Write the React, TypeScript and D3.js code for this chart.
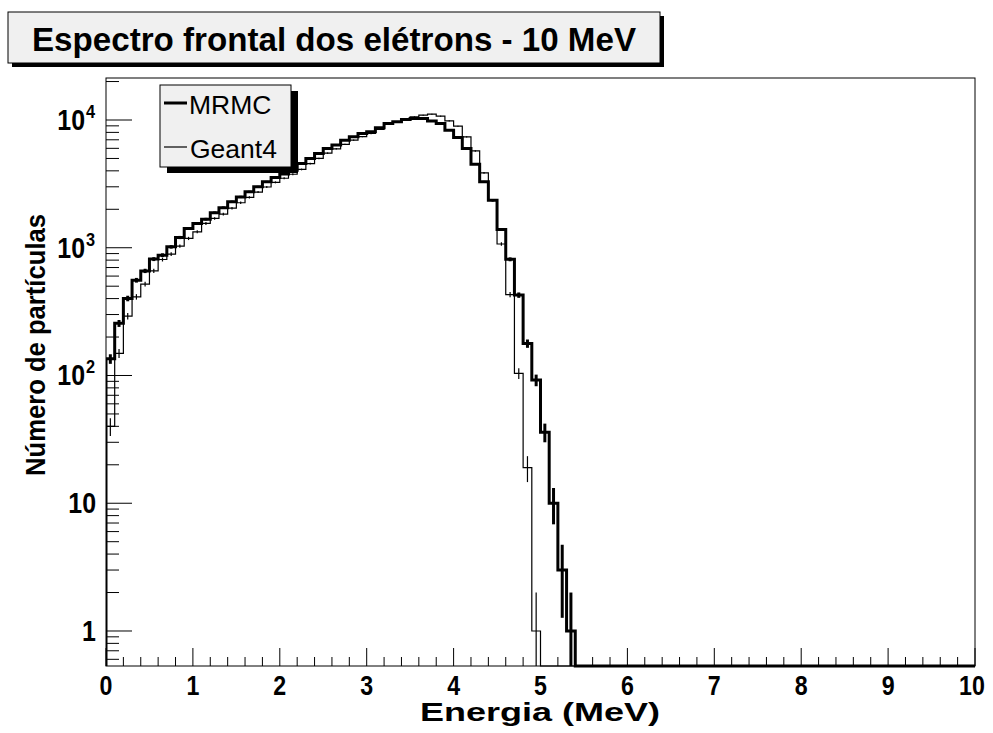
import React from "react";
import * as d3 from "d3";

// ---- data (counts per 0.1 MeV bin, starting at 0 MeV) ----
const mrmc = [
  135, 256, 401, 557, 659, 815, 875, 1016, 1203, 1415,
  1549, 1674, 1880, 2060, 2290, 2500, 2740, 3000, 3280, 3550,
  3770, 4050, 4570, 5000, 5470, 5990, 6360, 6950, 7380, 7840,
  8100, 8700, 9390, 9670, 10090, 10270, 10270, 9840, 9390, 8320,
  7290, 5980, 4510, 3280, 2355, 1390, 812, 426, 178, 92,
  36, 10, 3, 1,
];
const geant4 = [
  40, 149, 292, 413, 519, 659, 809, 891, 1030, 1183,
  1333, 1549, 1695, 1833, 2040, 2250, 2480, 2730, 2990, 3250,
  3500, 3760, 4100, 4550, 5000, 5500, 5950, 6450, 6950, 7400,
  7840, 8430, 9270, 9670, 10270, 10580, 10900, 11100, 10710, 9840,
  8940, 7380, 5730, 3860, 2355, 1070, 430, 104, 19, 1,
];
const xTicks = [0, 1, 2, 3, 4, 5, 6, 7, 8, 9, 10];
const yDecades = [1, 10, 100, 1000, 10000];
const yDecadeLabels = ["1", "10", "10|2", "10|3", "10|4"];
const seriesNames = ["MRMC", "Geant4"];
const titleText = "Espectro frontal dos elétrons - 10 MeV";
const xTitle = "Energia (MeV)";
const yTitle = "Número de partículas";

const W = 993;
const H = 733;
const L = 106, R = 975, T = 78, B = 666;
const nBins = 100;
const binW = 0.1;
const yMin = 0.532;
const yMax = 21320;
const FONT = "'Liberation Sans', Arial, Helvetica, sans-serif";

export default function App() {
  const x = d3.scaleLinear().domain([0, 10]).range([L, R]);
  const y = d3.scaleLog().domain([yMin, yMax]).range([B, T]);

  const yv = (v: number) => (v > 0 ? y(Math.max(v, yMin)) : y(yMin));

  const stepPath = (vals: number[]) => {
    const pts: [number, number][] = [];
    for (let i = 0; i < nBins; i++) {
      const v = vals[i] ?? 0;
      pts.push([i * binW, v]);
    }
    pts.push([10, vals[nBins - 1] ?? 0]);
    const line = d3
      .line<[number, number]>()
      .x((d) => x(d[0]))
      .y((d) => yv(d[1]))
      .curve(d3.curveStepAfter);
    return `M${x(0)},${y(yMin)}` + (line(pts) as string).replace(/^M/, "L");
  };

  const errBars = (vals: number[]) =>
    vals
      .map((v, i) => ({ v, i }))
      .filter((d) => d.v > 0)
      .map((d) => {
        const s = Math.sqrt(d.v);
        const lo = Math.max(d.v - s, yMin);
        const hi = d.v + s;
        const cx = x((d.i + 0.5) * binW);
        return { cx, y1: y(hi), y2: lo <= yMin ? B : y(lo) };
      });

  const yMinor: number[] = [];
  for (let e = -1; e <= 4; e++) {
    for (let m = 2; m <= 9; m++) {
      const v = m * Math.pow(10, e);
      if (v > yMin && v < yMax) yMinor.push(v);
    }
  }
  const xMinor: number[] = [];
  for (let i = 0; i <= 50; i++) {
    if (i % 5 !== 0) xMinor.push(i * 0.2);
  }

  const series = [
    { vals: mrmc, sw: 3 },
    { vals: geant4, sw: 1.2 },
  ];

  const SX = 0.86;

  return (
    <svg
      width={W}
      height={H}
      viewBox={`0 0 ${W} ${H}`}
      style={{ position: "absolute", left: 0, top: 0, background: "#fff" }}
      fontFamily={FONT}
    >
      <rect x={0} y={0} width={W} height={H} fill="#fff" />
      <defs>
        <clipPath id="plotclip">
          <rect x={L} y={T} width={R - L} height={B - T + 2} />
        </clipPath>
      </defs>

      {/* title box */}
      <rect x={12} y={16} width={652} height={51} fill="#000" />
      <rect x={8} y={12} width={652} height={51} fill="#f0f0f0" stroke="#000" strokeWidth={1} />
      <text
        x={334}
        y={51}
        textAnchor="middle"
        fontSize={34}
        fontWeight="bold"
        textLength={604}
        lengthAdjust="spacingAndGlyphs"
      >
        {titleText}
      </text>

      {/* frame */}
      <rect x={L} y={T} width={R - L} height={B - T} fill="none" stroke="#000" strokeWidth={1} />

      {/* histograms */}
      <g clipPath="url(#plotclip)">
        {series.map((s, k) => (
          <g key={k}>
            <path d={stepPath(s.vals)} fill="none" stroke="#000" strokeWidth={s.sw} strokeLinejoin="miter" />
            {errBars(s.vals).map((e, j) => (
              <line key={j} x1={e.cx} x2={e.cx} y1={e.y1} y2={e.y2} stroke="#000" strokeWidth={s.sw} />
            ))}
          </g>
        ))}
      </g>

      {/* y axis ticks */}
      {yDecades.map((v) => (
        <line key={"yM" + v} x1={L} x2={L + 26} y1={y(v)} y2={y(v)} stroke="#000" strokeWidth={1} />
      ))}
      {yMinor.map((v) => (
        <line key={"ym" + v} x1={L} x2={L + 13} y1={y(v)} y2={y(v)} stroke="#000" strokeWidth={1} />
      ))}
      {yDecadeLabels.map((lab, i) => {
        const [base, sup] = lab.split("|");
        const yy = y(yDecades[i]) + 10;
        if (!sup) {
          return (
            <text key={lab} transform={`translate(96,${yy}) scale(${SX},1)`} textAnchor="end" fontSize={29} fontWeight="bold">
              {base}
            </text>
          );
        }
        return (
          <g key={lab}>
            <text transform={`translate(85,${yy}) scale(${SX},1)`} textAnchor="end" fontSize={29} fontWeight="bold">
              {base}
            </text>
            <text transform={`translate(86,${yy - 12}) scale(${SX},1)`} textAnchor="start" fontSize={19} fontWeight="bold">
              {sup}
            </text>
          </g>
        );
      })}

      {/* x axis ticks */}
      {xTicks.map((v) => (
        <line key={"xM" + v} x1={x(v)} x2={x(v)} y1={B} y2={B - 18} stroke="#000" strokeWidth={1} />
      ))}
      {xMinor.map((v) => (
        <line key={"xm" + v} x1={x(v)} x2={x(v)} y1={B} y2={B - 9} stroke="#000" strokeWidth={1} />
      ))}
      {xTicks.map((v) => (
        <text
          key={"xl" + v}
          transform={`translate(${v === 10 ? x(v) - 3 : x(v)},695) scale(${SX},1)`}
          textAnchor="middle"
          fontSize={27}
          fontWeight="bold"
        >
          {v}
        </text>
      ))}

      {/* axis titles */}
      <text x={540} y={721} textAnchor="middle" fontSize={25} fontWeight="bold" textLength={240} lengthAdjust="spacingAndGlyphs">
        {xTitle}
      </text>
      <text
        transform={`translate(45,345) rotate(-90)`}
        textAnchor="middle"
        fontSize={27}
        fontWeight="bold"
        textLength={262}
        lengthAdjust="spacingAndGlyphs"
      >
        {yTitle}
      </text>

      {/* legend */}
      <rect x={167} y={91} width={131} height={82} fill="#000" />
      <rect x={160} y={85} width={131} height={82} fill="#f0f0f0" stroke="#000" strokeWidth={1} />
      <line x1={164} x2={187} y1={103} y2={103} stroke="#000" strokeWidth={3} />
      <line x1={164} x2={187} y1={147} y2={147} stroke="#000" strokeWidth={1.2} />
      <text x={189} y={114} fontSize={26.5}>{seriesNames[0]}</text>
      <text x={190} y={158} fontSize={26.5}>{seriesNames[1]}</text>
    </svg>
  );
}
